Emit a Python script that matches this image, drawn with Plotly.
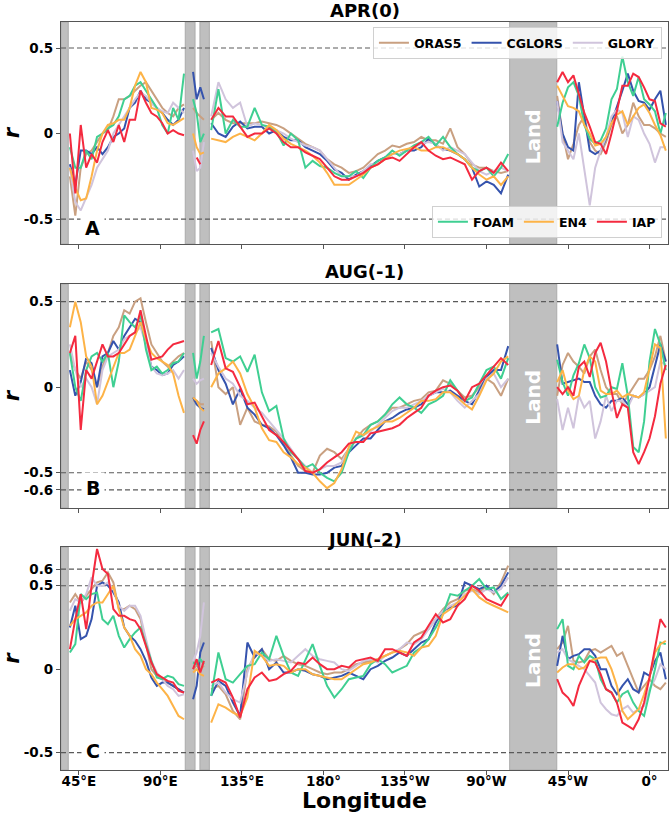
import plotly.graph_objects as go

# longitude samples (degrees east, 0-360), split where land breaks the section
LON_1 = list(range(40, 104, 3))
LON_2 = [108, 110, 112, 114]
LON_3 = list(range(118, 283, 4))
LON_4 = list(range(309, 370, 3))

TICK_VALS = [45, 90, 135, 180, 225, 270, 315, 360]
TICK_TEXT = ["45°E", "90°E", "135°E", "180°", "135°W", "90°W", "45°W", "0°"]

# shaded land columns (lon start, lon end)
MASK_BANDS = [(35.1, 39.1), (103.7, 109.1), (111.8, 117.0), (282.8, 308.8)]

PRODUCTS = ["ORAS5", "CGLORS", "GLORY", "FOAM", "EN4", "IAP"]
COLORS = ["#c9a081", "#3553ad", "#d0c4dc", "#3fcf92", "#fdb347", "#f42a3f"]

# ---- APR(0) ----
APR_ORAS5 = [
    [-0.25, -0.48, -0.2, -0.12, -0.1, -0.05, 0.0, 0.02, 0.1, 0.2, 0.2, 0.22, 0.25, 0.28, 0.3, 0.25, 0.2, 0.15, 0.12, 0.1, 0.15, 0.17],
    [0.15, 0.12, 0.1, 0.08],
    [0.08, 0.12, 0.08, 0.06, 0.06, 0.06, 0.06, 0.07, 0.06, 0.05, 0.03, 0.0, -0.03, -0.06, -0.08, -0.1, -0.15, -0.18,
     -0.2, -0.23, -0.22, -0.2, -0.16, -0.12, -0.1, -0.07, -0.08, -0.06, -0.05, -0.02, -0.04, -0.04, -0.06, 0.03, -0.08, -0.12, -0.18, -0.2, -0.2, -0.22, -0.23, -0.22],
    [0.22, 0.0, -0.15, -0.06, 0.05, 0.1, -0.05, -0.1, -0.12, -0.05, 0.05, 0.1, 0.0, 0.05, 0.18, 0.1, 0.05, 0.05, 0.03, 0.0, -0.02],
]
APR_CGLORS = [
    [-0.18, -0.3, -0.1, -0.1, -0.12, -0.08, -0.12, -0.08, -0.02, 0.0, 0.03, 0.15, 0.18, 0.25, 0.2, 0.18, 0.15, 0.12, 0.08, 0.05, 0.08, 0.15],
    [0.36, 0.2, 0.27, 0.2],
    [0.06, 0.0, -0.02, 0.04, 0.07, 0.03, 0.04, 0.04, 0.0, 0.02, -0.02, -0.04, -0.04, -0.08, -0.1, -0.12, -0.16, -0.21,
     -0.23, -0.27, -0.24, -0.22, -0.19, -0.16, -0.14, -0.12, -0.12, -0.1, -0.1, -0.08, -0.03, -0.07, -0.09, -0.1, -0.12, -0.15, -0.2, -0.31, -0.28, -0.3, -0.35, -0.24],
    [0.19, 0.0, -0.08, -0.1, 0.3, 0.1, -0.1, -0.12, -0.1, -0.03, 0.06, 0.15, 0.25, 0.35, 0.25, 0.19, 0.18, 0.14, 0.2, 0.25, 0.05],
]
APR_GLORY = [
    [-0.2, -0.4, -0.45, -0.38, -0.3, -0.2, -0.15, -0.1, 0.0, 0.05, 0.1, 0.15, 0.2, 0.24, 0.22, 0.18, 0.15, 0.13, 0.12, 0.18, 0.15, 0.12],
    [-0.1, -0.22, -0.2, -0.05],
    [0.1, 0.3, 0.2, 0.15, 0.18, 0.04, 0.06, 0.05, 0.03, 0.02, 0.0, -0.03, -0.05, -0.07, -0.08, -0.1, -0.15, -0.2,
     -0.25, -0.25, -0.25, -0.22, -0.18, -0.18, -0.15, -0.12, -0.12, -0.1, -0.08, -0.06, -0.05, -0.06, -0.1, -0.08, -0.1, -0.12, -0.17, -0.22, -0.24, -0.22, -0.2, -0.22],
    [0.19, -0.05, -0.1, -0.15, 0.0, -0.2, -0.42, -0.2, -0.1, -0.02, 0.1, 0.14, 0.12, -0.02, 0.1, 0.08, 0.0, -0.06, -0.17, -0.08, -0.08],
]
APR_FOAM = [
    [-0.08, -0.2, -0.2, -0.1, -0.15, -0.02, 0.0, 0.03, 0.05, 0.1, 0.2, 0.22, 0.28, 0.3, 0.25, 0.2, 0.15, 0.05, 0.0, 0.15, 0.08, 0.35],
    [0.2, 0.12, -0.05, 0.0],
    [0.02, 0.26, 0.0, 0.08, 0.04, 0.04, 0.15, 0.05, 0.04, 0.01, -0.07, 0.0, -0.04, -0.2, -0.16, -0.19, -0.2, -0.23,
     -0.25, -0.25, -0.22, -0.26, -0.2, -0.16, -0.14, -0.1, -0.13, -0.1, -0.07, -0.05, -0.02, -0.07, -0.02, -0.08, -0.12, -0.15, -0.2, -0.22, -0.2, -0.25, -0.2, -0.12],
    [0.04, 0.18, 0.27, 0.3, 0.22, 0.05, -0.03, -0.06, -0.04, 0.03, 0.2, 0.26, 0.45, 0.3, 0.22, 0.33, 0.2, 0.17, 0.13, 0.0, 0.12],
]
APR_EN4 = [
    [-0.2, -0.32, -0.39, -0.38, -0.25, -0.1, 0.0, 0.05, 0.06, 0.08, 0.08, 0.15, 0.28, 0.36, 0.3, 0.15, 0.14, 0.12, 0.06, 0.05, 0.07, 0.09],
    [0.0, -0.08, -0.12, -0.11],
    [-0.03, -0.04, -0.05, -0.02, 0.0, -0.02, -0.04, 0.0, 0.05, 0.02, -0.03, -0.06, -0.08, -0.1, -0.13, -0.17, -0.23, -0.3,
     -0.3, -0.3, -0.27, -0.24, -0.2, -0.18, -0.15, -0.12, -0.1, -0.09, -0.08, -0.1, -0.1, -0.08, -0.08, -0.1, -0.12, -0.15, -0.2, -0.24, -0.27, -0.25, -0.3, -0.25],
    [0.28, 0.22, 0.16, 0.15, 0.13, 0.05, 0.0, -0.07, -0.06, -0.02, 0.06, 0.11, 0.13, 0.05, 0.1, 0.15, 0.17, 0.12, 0.05, -0.01, -0.1],
]
APR_IAP = [
    [0.0, -0.35, 0.05, -0.2, -0.12, -0.17, -0.05, 0.02, -0.05, 0.05, -0.05, 0.08, 0.08, 0.25, 0.18, 0.12, 0.1, 0.06, 0.0, 0.02, 0.0, -0.01],
    [None, -0.14, -0.18, None],
    [0.08, 0.15, 0.1, 0.1, 0.04, -0.02, 0.0, 0.0, 0.03, 0.0, -0.05, -0.08, -0.08, -0.11, -0.13, -0.15, -0.2, -0.25,
     -0.27, -0.27, -0.25, -0.23, -0.2, -0.18, -0.15, -0.14, -0.16, -0.12, -0.08, -0.05, -0.1, -0.13, -0.15, -0.14, -0.16, -0.18, -0.27, -0.22, -0.2, -0.23, -0.17, -0.22],
    [0.3, 0.36, 0.3, 0.34, 0.23, 0.12, 0.04, -0.05, -0.06, -0.12, 0.0, 0.13, 0.28, 0.28, 0.35, 0.33, 0.27, 0.2, 0.19, 0.06, 0.04],
]

# ---- AUG(-1) ----
AUG_ORAS5 = [
    [0.2, 0.1, 0.05, 0.15, 0.1, 0.0, 0.12, 0.2, 0.3, 0.35, 0.45, 0.43, 0.5, 0.52, 0.38, 0.25, 0.2, 0.15, 0.12, 0.15, 0.18, 0.2],
    [-0.08, -0.08, -0.1, -0.1],
    [0.27, 0.0, -0.04, 0.0, -0.22, -0.12, -0.2, -0.22, -0.23, -0.26, -0.33, -0.4, -0.46, -0.49, -0.5, -0.4, -0.36, -0.38,
     -0.42, -0.36, -0.3, -0.25, -0.22, -0.2, -0.16, -0.12, -0.12, -0.1, -0.08, -0.07, -0.03, -0.02, 0.04, 0.02, -0.02, -0.06, -0.05, 0.0, 0.05, 0.02, -0.05, 0.05],
    [-0.05, 0.13, 0.2, 0.15, 0.12, 0.08, 0.18, 0.22, 0.1, 0.0, -0.04, -0.04, -0.1, -0.05, 0.0, 0.05, 0.05, 0.1, 0.18, 0.3, 0.15],
]
AUG_CGLORS = [
    [0.1, -0.05, 0.03, 0.17, 0.14, 0.0, 0.18, 0.2, 0.27, 0.22, 0.3, 0.35, 0.4, 0.38, 0.25, 0.12, 0.1, 0.07, 0.08, 0.13, 0.15, 0.18],
    [-0.06, -0.1, -0.12, -0.13],
    [0.23, 0.1, 0.02, -0.1, -0.01, -0.12, -0.16, -0.22, -0.24, -0.28, -0.34, -0.41, -0.5, -0.5, -0.51, -0.51, -0.5, -0.47,
     -0.46, -0.38, -0.34, -0.3, -0.3, -0.25, -0.2, -0.18, -0.15, -0.13, -0.12, -0.1, -0.05, -0.03, -0.03, -0.02, -0.05, -0.08, -0.1, -0.02, 0.06, 0.1, 0.1, 0.24],
    [0.25, 0.02, 0.03, 0.04, 0.05, 0.03, 0.03, -0.05, -0.1, -0.12, -0.08, -0.08, -0.06, -0.1, -0.05, -0.06, -0.04, 0.0, 0.13, 0.25, 0.15],
]
AUG_GLORY = [
    [0.25, 0.1, 0.0, 0.05, 0.0, -0.1, 0.1, 0.18, 0.2, 0.22, 0.28, 0.3, 0.32, 0.35, 0.25, 0.12, 0.08, 0.07, 0.08, 0.1, 0.05, 0.1],
    [0.05, 0.02, 0.04, 0.05],
    [0.2, 0.12, 0.05, 0.02, -0.05, -0.08, -0.12, -0.15, -0.2, -0.25, -0.3, -0.36, -0.42, -0.46, -0.5, -0.48, -0.46, -0.46,
     -0.44, -0.36, -0.3, -0.28, -0.26, -0.22, -0.18, -0.14, -0.12, -0.12, -0.1, -0.08, -0.05, -0.03, -0.01, -0.03, -0.08, -0.12, -0.08, -0.04, 0.05, 0.08, 0.0, 0.05],
    [-0.07, -0.25, -0.12, -0.24, -0.05, -0.12, -0.08, -0.3, -0.2, -0.05, -0.14, -0.08, -0.08, -0.12, -0.05, -0.06, -0.04, -0.02, 0.0, 0.15, 0.13],
]
AUG_FOAM = [
    [0.2, 0.0, -0.08, 0.1, 0.18, 0.2, 0.15, 0.2, 0.0, 0.15, 0.42, 0.38, 0.35, 0.42, 0.22, 0.1, 0.12, 0.08, 0.1, 0.14, 0.15, 0.2],
    [0.2, 0.05, 0.15, 0.3],
    [0.32, 0.34, 0.17, 0.15, 0.18, 0.09, 0.19, -0.03, -0.14, -0.11, -0.3, -0.38, -0.42, -0.47, -0.45, -0.5, -0.53, -0.55,
     -0.5, -0.38, -0.3, -0.28, -0.22, -0.2, -0.16, -0.1, -0.06, -0.1, -0.12, -0.15, -0.1, -0.08, -0.05, 0.04, -0.02, -0.08, -0.06, 0.02, 0.1, 0.12, 0.05, 0.17],
    [0.16, 0.03, -0.05, 0.07, 0.14, 0.25, 0.17, 0.0, -0.06, -0.05, 0.0, -0.01, 0.14, -0.05, -0.35, -0.38, -0.2, 0.15, 0.34, 0.25, 0.1],
]
AUG_EN4 = [
    [0.35, 0.5, 0.38, 0.18, 0.12, -0.1, -0.05, 0.03, 0.12, 0.2, 0.2, 0.22, 0.3, 0.38, 0.28, 0.2, 0.17, 0.15, 0.13, 0.08, -0.05, -0.15],
    [-0.06, -0.08, -0.12, -0.14],
    [0.0, 0.08, 0.11, 0.15, 0.08, -0.04, -0.12, -0.24, -0.31, -0.32, -0.38, -0.41, -0.45, -0.47, -0.5, -0.55, -0.59, -0.56,
     -0.48, -0.35, -0.26, -0.28, -0.25, -0.23, -0.2, -0.2, -0.18, -0.15, -0.12, -0.08, -0.08, -0.07, -0.03, -0.03, -0.06, -0.1, -0.13, -0.05, 0.04, 0.08, 0.15, 0.18],
    [0.03, 0.1, -0.02, -0.07, -0.05, 0.1, 0.18, 0.15, -0.02, -0.04, -0.04, -0.02, -0.06, -0.04, -0.05, -0.06, -0.03, 0.12, 0.25, 0.23, -0.3],
]
AUG_IAP = [
    [0.2, 0.3, -0.25, 0.1, 0.05, 0.15, 0.25, 0.18, 0.18, 0.2, 0.25, 0.3, 0.32, 0.45, 0.3, 0.16, 0.17, 0.18, 0.22, 0.25, 0.26, 0.27],
    [-0.28, -0.33, -0.25, -0.2],
    [0.13, 0.27, 0.11, 0.09, 0.0, -0.1, -0.09, -0.17, -0.25, -0.28, -0.32, -0.37, -0.42, -0.49, -0.5, -0.48, -0.44, -0.41,
     -0.38, -0.33, -0.32, -0.32, -0.27, -0.26, -0.25, -0.24, -0.22, -0.18, -0.15, -0.12, -0.05, -0.02, 0.0, 0.01, -0.02, -0.08, 0.0, 0.02, 0.07, 0.12, 0.17, 0.13],
    [0.0, -0.04, 0.0, -0.05, 0.12, 0.15, 0.06, 0.2, 0.26, 0.15, -0.02, -0.18, -0.1, -0.12, -0.38, -0.45, -0.38, -0.3, -0.17, 0.02, 0.13],
]

# ---- JUN(-2) ----
JUN_ORAS5 = [
    [0.4, 0.45, 0.4, 0.44, 0.48, 0.52, 0.53, 0.58, 0.52, 0.36, 0.36, 0.38, 0.36, 0.3, 0.15, 0.0, -0.04, -0.06, -0.08, -0.1, -0.12, -0.14],
    [0.0, 0.02, 0.0, 0.02],
    [-0.12, -0.1, -0.15, -0.25, -0.3, 0.0, 0.08, 0.12, 0.06, 0.05, 0.08, 0.05, 0.03, 0.02, 0.0, -0.02, -0.03, -0.02,
     -0.02, 0.0, 0.03, 0.04, 0.05, 0.06, 0.08, 0.1, 0.12, 0.15, 0.2, 0.22, 0.24, 0.3, 0.36, 0.4, 0.42, 0.47, 0.48, 0.46, 0.5, 0.45, 0.52, 0.62],
    [0.12, 0.16, 0.26, 0.05, 0.04, 0.05, 0.11, 0.12, 0.1, 0.12, 0.14, 0.08, 0.1, 0.02, -0.06, -0.14, -0.1, -0.06, -0.1, -0.12, -0.08],
]
JUN_CGLORS = [
    [0.25, 0.38, 0.18, 0.2, 0.3, 0.5, 0.52, 0.5, 0.46, 0.4, 0.25, 0.2, 0.17, 0.12, 0.05, -0.05, -0.1, -0.08, -0.08, -0.1, -0.12, -0.14],
    [-0.18, -0.1, 0.1, 0.16],
    [-0.16, -0.07, -0.1, -0.2, -0.28, 0.16, 0.07, 0.12, 0.0, 0.04, -0.02, -0.02, 0.0, -0.01, -0.03, -0.04, -0.06, -0.05,
     -0.04, -0.02, -0.04, -0.06, 0.0, 0.02, 0.05, 0.07, 0.1, 0.08, 0.12, 0.16, 0.18, 0.28, 0.35, 0.37, 0.38, 0.52, 0.5, 0.48, 0.5, 0.46, 0.5, 0.58],
    [0.02, 0.2, 0.06, 0.08, 0.09, 0.12, 0.12, 0.08, 0.0, 0.0, -0.1, -0.15, -0.1, -0.06, -0.12, -0.14, -0.02, -0.04, 0.05, 0.1, -0.06],
]
JUN_GLORY = [
    [0.35, 0.42, 0.4, 0.45, 0.55, 0.5, 0.5, 0.52, 0.48, 0.38, 0.35, 0.38, 0.38, 0.32, 0.18, 0.05, -0.02, -0.06, -0.1, -0.12, -0.16, -0.15],
    [0.05, 0.1, 0.2, 0.4],
    [-0.1, -0.08, -0.14, -0.18, -0.2, -0.02, 0.1, 0.08, 0.05, 0.06, 0.05, 0.04, 0.08, 0.12, 0.08, 0.06, 0.05, 0.04,
     0.0, -0.01, 0.02, 0.05, 0.06, 0.04, 0.08, 0.1, 0.12, 0.16, 0.15, 0.18, 0.24, 0.3, 0.35, 0.38, 0.4, 0.45, 0.47, 0.45, 0.48, 0.46, 0.48, 0.55],
    [0.1, 0.12, 0.06, 0.04, 0.02, 0.0, -0.04, -0.08, -0.2, -0.24, -0.27, -0.28, -0.24, -0.22, -0.26, -0.24, -0.22, -0.12, -0.06, 0.03, 0.0],
]
JUN_FOAM = [
    [0.1, 0.15, 0.45, 0.42, 0.45, 0.46, 0.3, 0.27, 0.32, 0.2, 0.13, 0.18, 0.22, 0.25, 0.15, 0.05, -0.05, -0.06, -0.04, -0.05, -0.09, -0.1],
    [0.04, 0.03, 0.06, 0.03],
    [-0.16, 0.1, -0.06, -0.08, -0.03, 0.02, 0.03, 0.1, 0.06, 0.2, 0.08, -0.02, -0.04, 0.05, 0.15, 0.02, -0.1, -0.17,
     -0.12, -0.06, -0.05, -0.04, 0.03, 0.06, 0.03, -0.02, 0.0, 0.02, 0.1, 0.13, 0.18, 0.25, 0.33, 0.45, 0.44, 0.47, 0.5, 0.54, 0.48, 0.49, 0.42, 0.46],
    [0.24, 0.3, 0.02, 0.0, 0.08, 0.04, 0.08, 0.06, -0.06, -0.12, -0.14, -0.2, -0.15, -0.13, -0.2, -0.25, -0.28, -0.14, 0.0, 0.16, 0.15],
]
JUN_EN4 = [
    [0.26, 0.3, 0.32, 0.34, 0.38, 0.4, 0.4, 0.45, 0.5, 0.36, 0.25, 0.2, 0.12, 0.08, 0.0, -0.03, -0.08, -0.12, -0.16, -0.22, -0.28, -0.3],
    [-0.02, 0.0, -0.03, -0.04],
    [-0.32, -0.21, -0.23, -0.26, -0.28, -0.17, 0.11, 0.08, 0.02, 0.03, 0.02, -0.02, 0.0, 0.0, -0.03, -0.04, -0.05, -0.06,
     -0.06, -0.03, 0.0, 0.03, 0.04, 0.06, 0.08, 0.1, 0.11, 0.1, 0.08, 0.13, 0.14, 0.2, 0.33, 0.36, 0.4, 0.44, 0.48, 0.43, 0.4, 0.38, 0.36, 0.34],
    [-0.02, 0.01, 0.03, 0.03, 0.0, 0.01, 0.05, 0.06, 0.07, 0.07, 0.0, -0.1, -0.25, -0.3, -0.27, -0.24, -0.15, -0.05, 0.1, 0.15, 0.17],
]
JUN_IAP = [
    [0.12, 0.3, 0.45, 0.24, 0.5, 0.72, 0.6, 0.57, 0.36, 0.32, 0.32, 0.3, 0.29, 0.24, 0.14, 0.04, -0.03, -0.05, -0.07, -0.08, -0.13, -0.14],
    [0.0, 0.06, -0.02, 0.05],
    [-0.08, -0.06, -0.08, -0.17, -0.29, -0.12, -0.05, -0.02, -0.07, -0.06, -0.03, -0.01, 0.04, 0.03, 0.07, 0.03, 0.0, 0.0,
     0.02, 0.01, 0.05, 0.06, 0.07, 0.05, 0.12, 0.12, 0.1, 0.08, 0.16, 0.19, 0.26, 0.33, 0.28, 0.3, 0.38, 0.42, 0.5, 0.47, 0.42, 0.4, 0.38, 0.45],
    [-0.06, -0.14, -0.17, -0.22, -0.1, -0.03, 0.05, 0.04, -0.03, -0.12, -0.14, -0.2, -0.32, -0.34, -0.36, -0.3, -0.2, -0.05, 0.12, 0.3, 0.25],
]

PANELS = [
    ("APR(0)", "A", [APR_ORAS5, APR_CGLORS, APR_GLORY, APR_FOAM, APR_EN4, APR_IAP], [0.5, -0.5], [-0.646, 0.652]),
    ("AUG(-1)", "B", [AUG_ORAS5, AUG_CGLORS, AUG_GLORY, AUG_FOAM, AUG_EN4, AUG_IAP], [0.5, -0.5, -0.6], [-0.706, 0.603]),
    ("JUN(-2)", "C", [JUN_ORAS5, JUN_CGLORS, JUN_GLORY, JUN_FOAM, JUN_EN4, JUN_IAP], [0.6, 0.5, -0.5], [-0.604, 0.732]),
]
YTICKS = [[-0.5, 0, 0.5], [-0.6, -0.5, 0, 0.5], [-0.5, 0, 0.5, 0.6]]
LABEL_Y = [-0.55, -0.59, -0.49]
LAND_Y = [-0.02, -0.06, 0.05]
DOMAINS = [[0.7032, 1.0], [0.3503, 0.6497], [0.0, 0.2981]]
TITLE_Y = [1.0160, 0.6658, 0.3088]

FONT = "DejaVu Sans"
AXCOL = "#555555"


def join(segs, xs=(LON_1, LON_2, LON_3, LON_4)):
    x, y = [], []
    for sx, sy in zip(xs, segs):
        if x:
            x.append(None)
            y.append(None)
        x.extend(sx)
        y.extend(sy)
    return x, y


fig = go.Figure()
shapes = []
annotations = []

for p, (title, letter, series, dashes, yr) in enumerate(PANELS):
    n = "" if p == 0 else str(p + 1)
    for k, segs in enumerate(series):
        x, y = join(segs)
        fig.add_trace(go.Scatter(
            x=x, y=y, mode="lines", name=PRODUCTS[k],
            line=dict(color=COLORS[k], width=2),
            xaxis="x" + n, yaxis="y" + n,
            showlegend=(p == 0),
            legend="legend" if k < 3 else "legend2",
            connectgaps=False,
        ))
    for a, b in MASK_BANDS:
        shapes.append(dict(type="rect", xref="x" + n, yref="y" + n + " domain",
                           x0=a, x1=b, y0=0, y1=1, layer="below",
                           fillcolor="#bfbfbf", line=dict(color="#ababab", width=1)))
    for d in dashes:
        shapes.append(dict(type="line", xref="x" + n + " domain", yref="y" + n,
                           x0=0, x1=1, y0=d, y1=d, layer="below",
                           line=dict(color="#5a5a5a", width=1.2, dash="5px,3px")))
    annotations.append(dict(text="<b>%s</b>" % title, xref="paper", yref="paper",
                            x=0.5, y=TITLE_Y[p], showarrow=False, yanchor="middle",
                            font=dict(family=FONT, size=18, color="black")))
    annotations.append(dict(text="<b>%s</b>" % letter, xref="x" + n, yref="y" + n,
                            x=52.5, y=LABEL_Y[p], showarrow=False, bgcolor="white",
                            borderpad=4, font=dict(family=FONT, size=19, color="black")))
    annotations.append(dict(text="<b>Land</b>", xref="x" + n, yref="y" + n,
                            x=295.8, y=LAND_Y[p], showarrow=False, textangle=-90,
                            font=dict(family=FONT, size=20, color="white")))

    xa = dict(range=[35.1, 370.2], domain=[0, 1], anchor="y" + n,
              tickvals=TICK_VALS, ticktext=TICK_TEXT, showticklabels=(p == 2),
              ticks="outside", ticklen=4, tickcolor=AXCOL, showgrid=False, zeroline=False,
              showline=True, mirror=True, linecolor=AXCOL, linewidth=1.2, ticklabelstandoff=-5,
              tickfont=dict(family=FONT, size=13.5, color="black", weight="bold"))
    ya = dict(range=yr, domain=DOMAINS[p], anchor="x" + n,
              tickvals=YTICKS[p], ticktext=["%g" % v for v in YTICKS[p]],
              ticks="outside", ticklen=4, tickcolor=AXCOL, showgrid=False, zeroline=False,
              showline=True, mirror=True, linecolor=AXCOL, linewidth=1.2,
              tickfont=dict(family=FONT, size=13.5, color="black", weight="bold"),
              title=dict(text="<b><i>r</i></b>", standoff=6,
                         font=dict(family=FONT, size=21, color="black")))
    fig.layout["xaxis" + n] = xa
    fig.layout["yaxis" + n] = ya

annotations.append(dict(text="<b>Longitude</b>", xref="paper", yref="paper",
                        x=0.5, y=-0.041, showarrow=False, yanchor="middle",
                        font=dict(family=FONT, size=22, color="black")))

legend_style = dict(orientation="h", xanchor="right", x=0.99,
                    bgcolor="rgba(255,255,255,0.8)", bordercolor="#d0d0d0", borderwidth=1,
                    font=dict(family=FONT, size=12.5, color="black", weight="bold"),
                    itemwidth=30, tracegroupgap=0)

fig.update_layout(
    width=671, height=816,
    margin=dict(l=61, r=3, t=22, b=46),
    plot_bgcolor="white", paper_bgcolor="white",
    shapes=shapes, annotations=annotations,
    legend=dict(legend_style, y=0.993, yanchor="top"),
    legend2=dict(legend_style, y=0.711, yanchor="bottom"),
)

# page body has a default 8px margin; drop it so the figure sits at the corner
fig.write_html("out.html", config={"displayModeBar": False},
               post_script="document.body.style.margin='0px';")
